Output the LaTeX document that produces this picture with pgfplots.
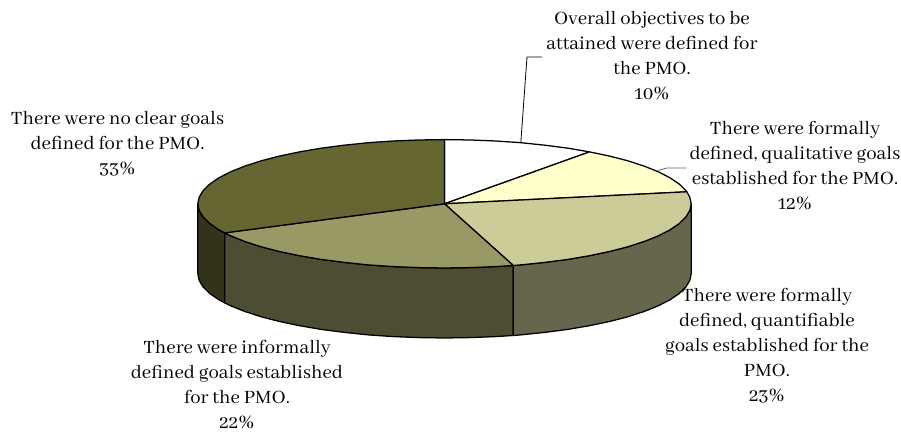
\documentclass[border=0pt]{standalone}
\usepackage{pgfplots}
\usepackage{fontspec}
\pgfplotsset{compat=1.18}
\setmainfont{Abhaya Libre}
\definecolor{topA}{HTML}{FFFFFF}
\definecolor{topB}{HTML}{FFFFCC}
\definecolor{topC}{HTML}{CCCC99}
\definecolor{topD}{HTML}{999966}
\definecolor{topE}{HTML}{666633}
\definecolor{sideC}{HTML}{66664D}
\definecolor{sideD}{HTML}{4D4D33}
\definecolor{sideE}{HTML}{33331A}
\tikzset{
  lbl/.style={align=center,inner sep=0pt,text=black,
    font=\fontsize{15.5}{18.75}\selectfont},
  edge/.style={draw=black,line width=0.95pt,line join=round}
}
\begin{document}
\begin{tikzpicture}
\begin{axis}[
  x=0.75pt,y=0.75pt,
  xmin=0,xmax=901,ymin=0,ymax=434,
  hide axis,clip=false,
  scale only axis
]
% page extent
\addplot[draw=none] coordinates {(0,0)(901,434)};

% rim of the disc, back to front
\addplot[edge,fill=sideE] coordinates {
 (224.7,201.1)(219.1,204.1)(209.9,210.4)(203.2,216.9)(199.2,223.5)(197.8,230.2)
 (197.8,160.2)(199.2,153.5)(203.2,146.9)(209.9,140.4)(219.1,134.1)(224.7,131.1)(224.7,201.1)};
\addplot[edge,fill=sideD] coordinates {
 (513.3,168.5)(495.8,167.4)(470.3,166.4)(444.5,166.0)(418.7,166.4)(393.2,167.4)(368.3,169.1)
 (344.2,171.6)(321.1,174.6)(299.5,178.3)(279.4,182.5)(261.2,187.2)(244.9,192.5)(230.9,198.1)(224.7,201.1)
 (224.7,131.1)(230.9,128.1)(244.9,122.5)(261.2,117.2)(279.4,112.5)(299.5,108.3)(321.1,104.6)(344.2,101.6)
 (368.3,99.1)(393.2,97.4)(418.7,96.4)(444.5,96.0)(470.3,96.4)(495.8,97.4)(513.3,98.5)(513.3,168.5)};
\addplot[edge,fill=sideC] coordinates {
 (691.2,230.2)(689.8,223.5)(685.8,216.9)(679.1,210.4)(669.9,204.1)(658.1,198.1)(644.1,192.5)(627.8,187.2)
 (609.6,182.5)(589.5,178.3)(567.9,174.6)(544.8,171.6)(520.7,169.1)(513.3,168.5)
 (513.3,98.5)(520.7,99.1)(544.8,101.6)(567.9,104.6)(589.5,108.3)(609.6,112.5)(627.8,117.2)(644.1,122.5)
 (658.1,128.1)(669.9,134.1)(679.1,140.4)(685.8,146.9)(689.8,153.5)(691.2,160.2)(691.2,230.2)};

% top face: 10, 12, 23, 22 and 33 percent, clockwise from twelve o'clock
\addplot[edge,fill=topA] coordinates {
 (444.5,230.2)(444.5,294.4)(470.3,294.0)(495.8,293.0)(520.7,291.3)(544.8,288.8)(567.9,285.8)(589.5,282.1)(444.5,230.2)};
\addplot[edge,fill=topB] coordinates {
 (444.5,230.2)(589.5,282.1)(609.6,277.9)(627.8,273.2)(644.1,267.9)(658.1,262.3)(669.9,256.3)(679.1,250.0)
 (685.8,243.5)(686.8,242.2)(444.5,230.2)};
\addplot[edge,fill=topC] coordinates {
 (444.5,230.2)(686.8,242.2)(689.8,236.9)(691.2,230.2)(689.8,223.5)(685.8,216.9)(679.1,210.4)(669.9,204.1)
 (658.1,198.1)(644.1,192.5)(627.8,187.2)(609.6,182.5)(589.5,178.3)(567.9,174.6)(544.8,171.6)(520.7,169.1)
 (513.3,168.5)(444.5,230.2)};
\addplot[edge,fill=topD] coordinates {
 (444.5,230.2)(513.3,168.5)(495.8,167.4)(470.3,166.4)(444.5,166.0)(418.7,166.4)(393.2,167.4)(368.3,169.1)
 (344.2,171.6)(321.1,174.6)(299.5,178.3)(279.4,182.5)(261.2,187.2)(244.9,192.5)(230.9,198.1)(224.7,201.1)
 (444.5,230.2)};
\addplot[edge,fill=topE] coordinates {
 (444.5,230.2)(224.7,201.1)(219.1,204.1)(209.9,210.4)(203.2,216.9)(199.2,223.5)(197.8,230.2)(199.2,236.9)
 (203.2,243.5)(209.9,250.0)(219.1,256.3)(230.9,262.3)(244.9,267.9)(261.2,273.2)(279.4,277.9)(299.5,282.1)
 (321.1,285.8)(344.2,288.8)(368.3,291.3)(393.2,293.0)(418.7,294.0)(444.5,294.4)(444.5,230.2)};

% leader lines
\addplot[draw=black,line width=0.6pt] coordinates {(520.8,291.1)(527,377)(542,377)};
\addplot[draw=black!60,line width=0.6pt] coordinates {(658,263.6)(667,266)(686.6,266)};

% slice labels
\node[lbl] at (axis cs:652,378) {Overall objectives to be\\attained were defined for\\the PMO.\\10\%};
\node[lbl] at (axis cs:795,268) {There were formally\\defined, qualitative goals\\established for the PMO.\\12\%};
\node[lbl] at (axis cs:767,88) {There were formally\\defined, quantifiable\\goals established for the\\PMO.\\23\%};
\node[lbl] at (axis cs:237,49) {There were informally\\defined goals established\\for the PMO.\\22\%};
\node[lbl] at (axis cs:117.5,290) {There were no clear goals\\defined for the PMO.\\33\%};
\end{axis}
\end{tikzpicture}
\end{document}
